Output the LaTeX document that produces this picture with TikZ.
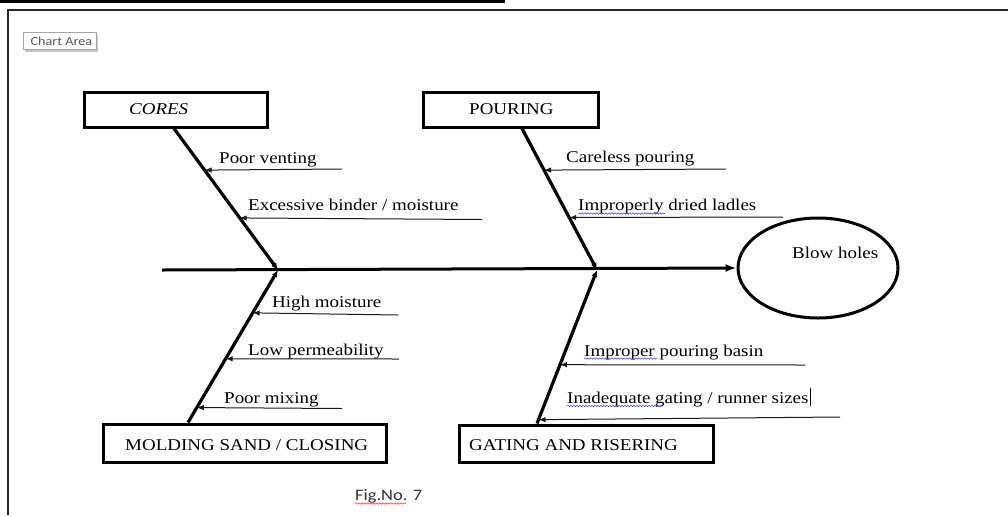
\documentclass[tikz,border=0pt]{standalone}
\usepackage{fontspec}
\setmainfont{Liberation Serif}[FakeStretch=1.15]
\newfontfamily\calib{Carlito}[FakeStretch=1.15]
\usetikzlibrary{arrows.meta,calc,shapes.geometric,decorations.pathmorphing,shadows}
\begin{document}
\begin{tikzpicture}[x=1pt,y=-1pt,
  lbl/.style={font=\fontsize{16.5}{19}\selectfont, inner sep=0pt, anchor=base west, text=black},
  catbox/.style={draw, line width=3pt, inner sep=0pt},
  bone/.style={line width=3.2pt, -{Latex[length=7pt,width=6pt]}},
  cause/.style={line width=1pt, draw=black!90, -{Latex[length=7pt,width=5.5pt]}},
  squig/.style={decorate, decoration={snake, segment length=3pt, amplitude=0.7pt}, line width=0.5pt},
]
\useasboundingbox (0,0) rectangle (1008,515);
% page decorations
\coordinate (barL) at (0,1.5);
\coordinate (barR) at (505,1.5);
\draw[line width=3pt] (barL) -- (barR);
\coordinate (frBL) at (8,515);
\coordinate (frTL) at (8,9.5);
\coordinate (frTR) at (1008,9.5);
\draw[line width=2pt, draw=black!85] (frBL) -- (frTL) -- (frTR);
\node[draw=gray!70, fill=white, line width=0.7pt, minimum width=73pt, minimum height=17pt, inner sep=0pt,
      drop shadow={shadow xshift=2pt, shadow yshift=-2pt, fill=gray!45, opacity=1}] (chartarea) at (59.5,41) {};
\node[inner sep=0pt, anchor=base west, font=\calib\fontsize{12.3}{14}\selectfont, text=black!65] (chartareatext) at (30.5,45.5) {Chart Area};

% category boxes
\node[catbox, minimum width=183pt, minimum height=35pt] (cores) at (175.5,109.5) {};
\node[lbl] (corestext) at (129,114.5) {\textit{CORES}};
\node[catbox, minimum width=175pt, minimum height=35pt] (pouring) at (510.5,109.5) {};
\node[lbl] (pouringtext) at (469,114.5) {POURING};
\node[catbox, minimum width=283pt, minimum height=38pt] (molding) at (244.5,443) {};
\node[lbl] (moldingtext) at (125,450.5) {MOLDING SAND / CLOSING};
\node[catbox, minimum width=254pt, minimum height=37pt] (gating) at (586,443.5) {};
\node[lbl] (gatingtext) at (469,450.5) {GATING AND RISERING};

% effect
\node[draw, ellipse, line width=3pt, minimum width=160pt, minimum height=100pt, inner sep=0pt] (effect) at (818,268) {};
\node[lbl] (effecttext) at (792,258.5) {Blow holes};

% spine
\coordinate (spineL) at (162,270);
\coordinate (j1) at (278,270);
\coordinate (j2) at (597,270);
\draw[line width=3pt, -{Latex[length=11pt,width=8pt]}] (spineL) -- (effect.west);

% bones
\coordinate (b1) at ([xshift=-1.5pt]cores.south);
\coordinate (b2) at ([xshift=11.5pt]pouring.south);
\coordinate (b3) at ([xshift=-56.5pt]molding.north);
\coordinate (b4) at ([xshift=-49pt]gating.north);
\draw[bone] (b1) -- (j1);
\draw[bone] (b2) -- (j2);
\draw[bone] (b3) -- (j1);
\draw[bone] (b4) -- (j2);

% causes: CORES
\node[lbl] (c1t) at (219,163) {Poor venting};
\coordinate (c1s) at (342,169);
\draw[cause] (c1s) -- ($(b1)!0.294!(j1)$);
\node[lbl] (c2t) at (248,210.5) {Excessive binder / moisture};
\coordinate (c2s) at (482,219.5);
\draw[cause] (c2s) -- ($(b1)!0.632!(j1)$);

% causes: POURING
\node[lbl] (c3t) at (566,162.5) {Careless pouring};
\coordinate (c3s) at (726,169);
\draw[cause] (c3s) -- ($(b2)!0.294!(j2)$);
\node[lbl] (c4t) at (578,210.5) {Improperly dried ladles};
\coordinate (c4s) at (783,217);
\draw[cause] (c4s) -- ($(b2)!0.629!(j2)$);
\coordinate (w4a) at (578,213.5);
\coordinate (w4b) at (665,213.5);
\draw[squig, draw=blue!75] (w4a) -- (w4b);

% causes: MOLDING SAND
\node[lbl] (c5t) at (272,307.5) {High moisture};
\coordinate (c5s) at (398,315);
\draw[cause] (c5s) -- ($(j1)!0.281!(b3)$);
\node[lbl] (c6t) at (248,355) {Low permeability};
\coordinate (c6s) at (399,359);
\draw[cause] (c6s) -- ($(j1)!0.582!(b3)$);
\node[lbl] (c7t) at (224,403.5) {Poor mixing};
\coordinate (c7s) at (342,408.5);
\draw[cause] (c7s) -- ($(j1)!0.902!(b3)$);

% causes: GATING
\node[lbl] (c8t) at (584,356) {Improper pouring basin};
\coordinate (c8s) at (805,365);
\draw[cause] (c8s) -- ($(j2)!0.617!(b4)$);
\coordinate (w8a) at (584,358.5);
\coordinate (w8b) at (657,358.5);
\draw[squig, draw=blue!75] (w8a) -- (w8b);
\node[lbl] (c9t) at (567,403.5) {Inadequate gating / runner sizes};
\coordinate (c9s) at (840,417);
\draw[cause] (c9s) -- ($(j2)!0.975!(b4)$);
\coordinate (w9a) at (567,406);
\coordinate (w9b) at (662,406);
\draw[squig, draw=blue!75] (w9a) -- (w9b);
\coordinate (curT) at (810.5,388);
\coordinate (curB) at (810.5,406);
\draw[line width=0.8pt] (curT) -- (curB);

% caption
\node[inner sep=0pt, anchor=base west, font=\calib\fontsize{16}{19}\selectfont, text=black!80] (fig) at (355,500) {Fig.No. 7};
\coordinate (wfa) at (355,503.5);
\coordinate (wfb) at (406,503.5);
\draw[squig, draw=red!80] (wfa) -- (wfb);
\end{tikzpicture}
\end{document}
